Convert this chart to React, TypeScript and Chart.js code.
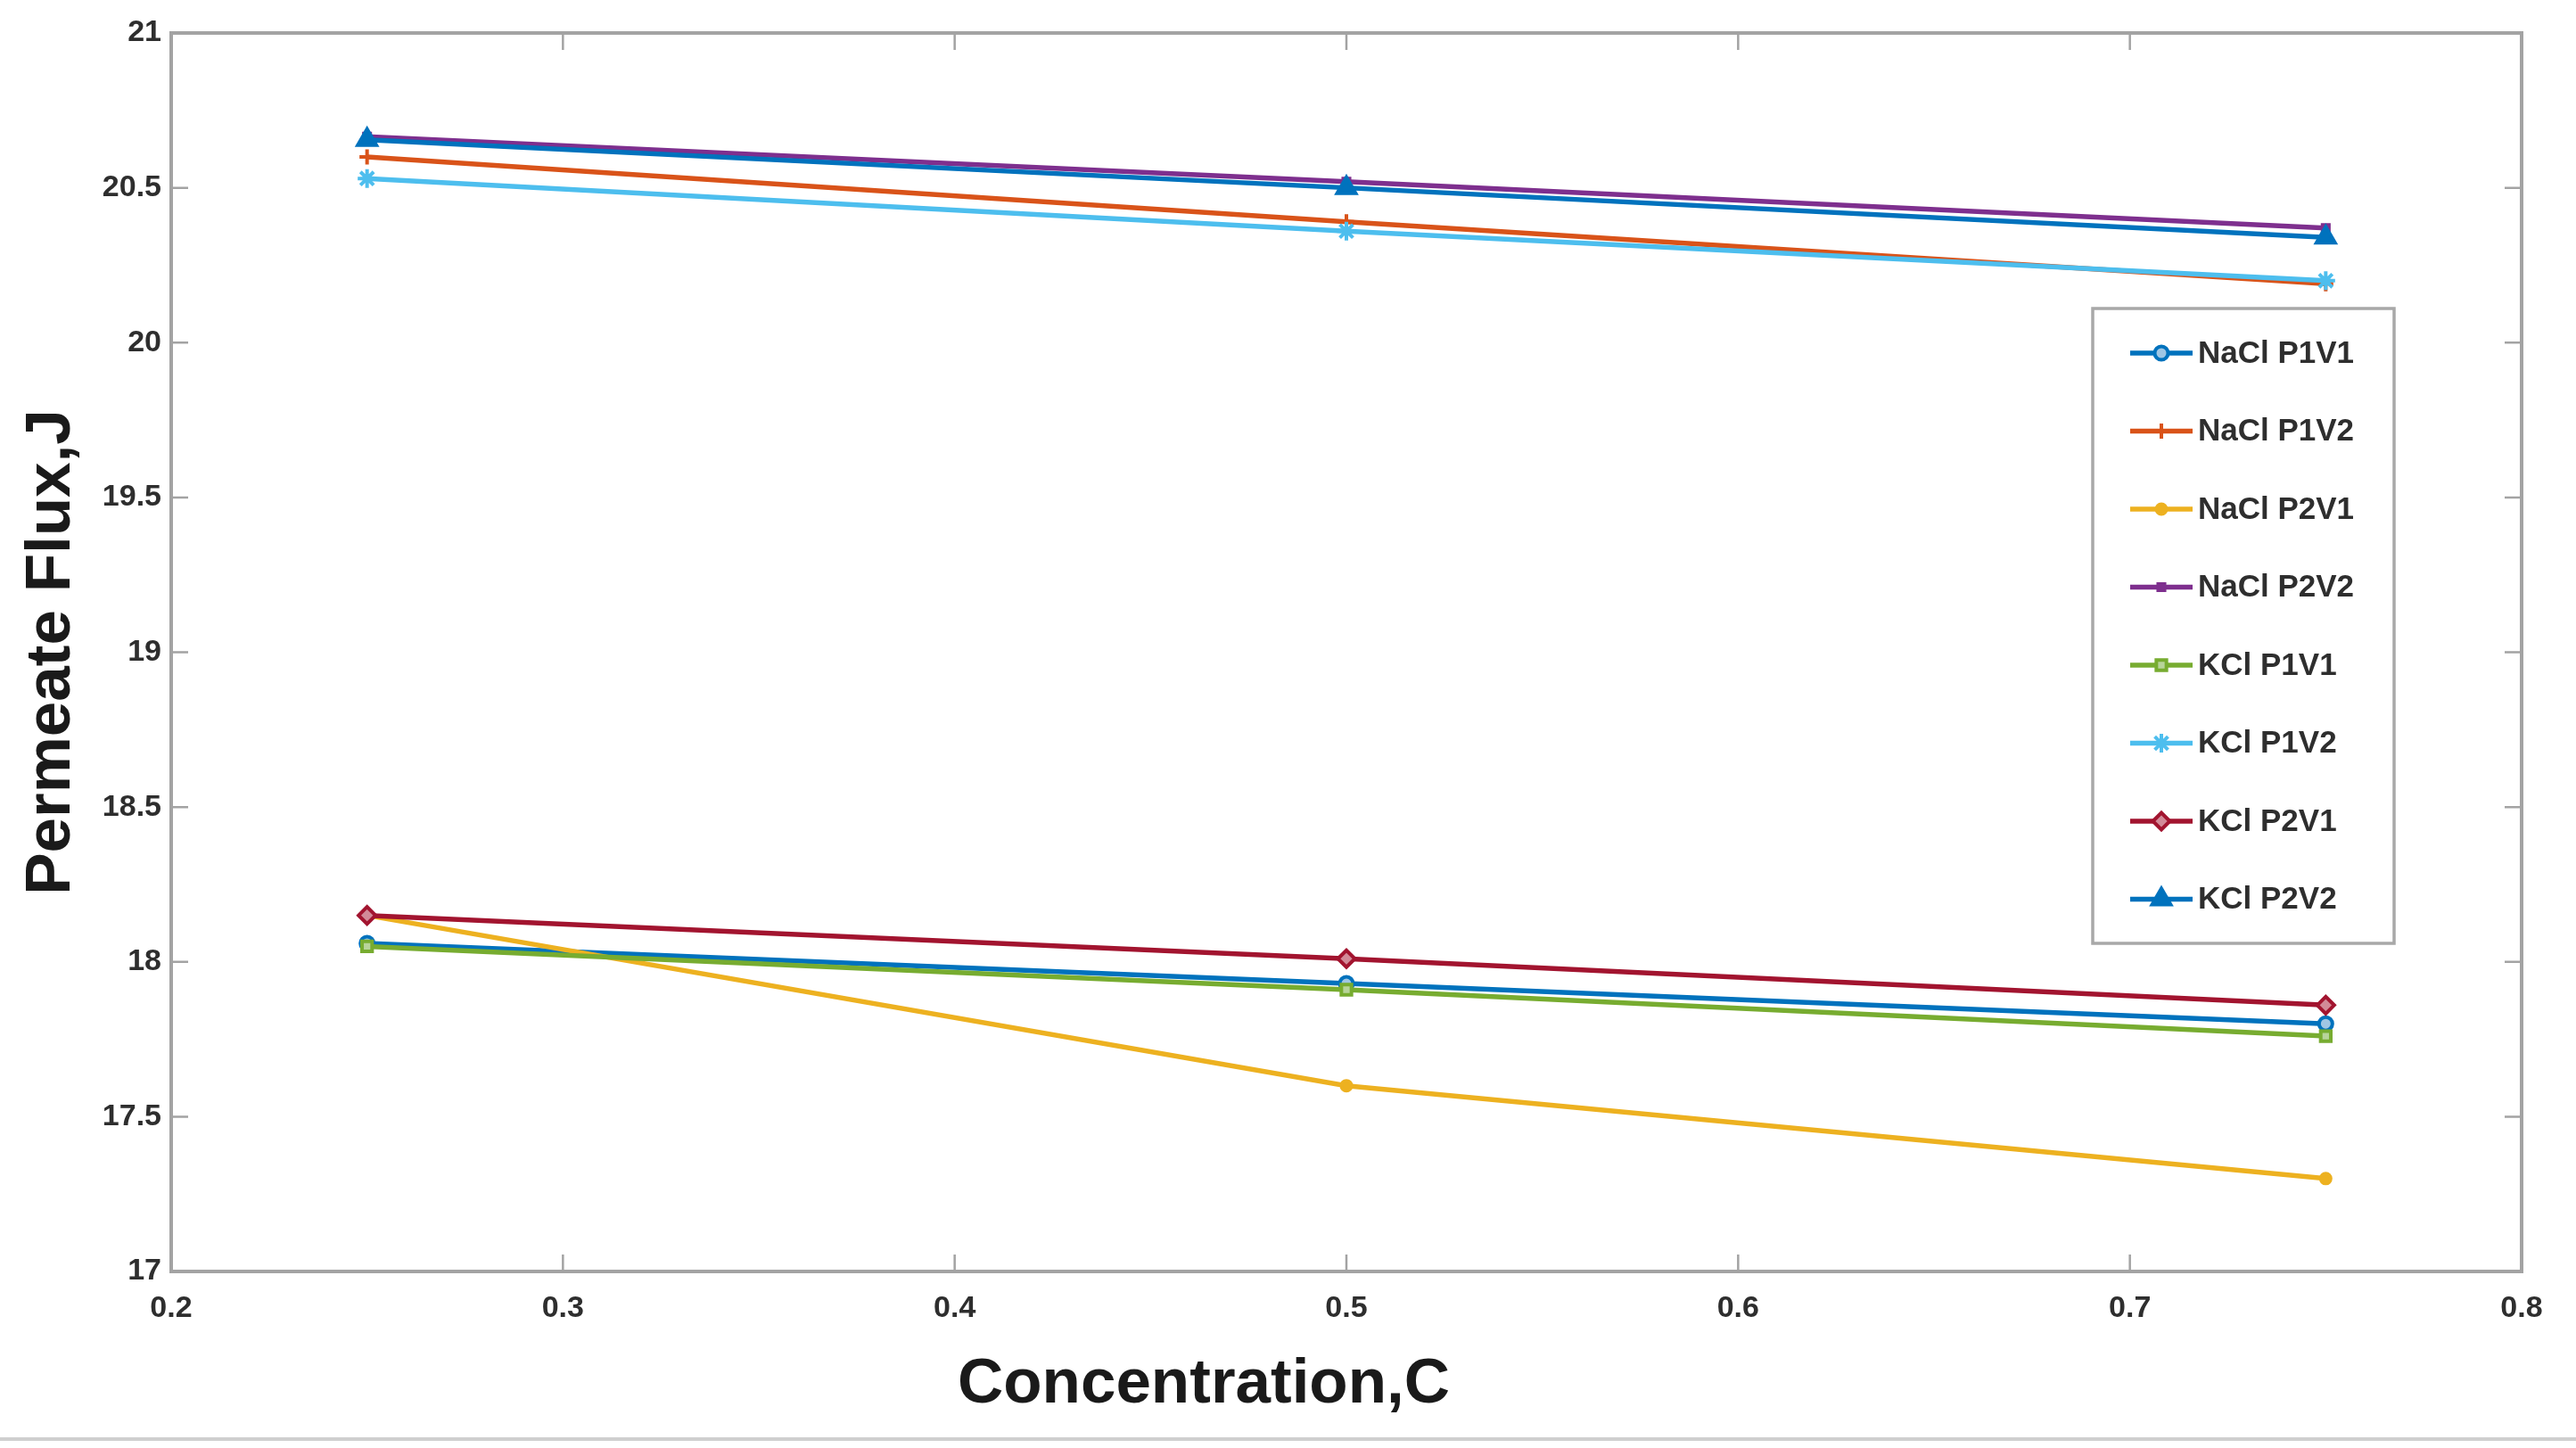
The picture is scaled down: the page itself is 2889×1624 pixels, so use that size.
import React, { useEffect, useRef } from 'react';
import { Chart, registerables } from 'chart.js';
import { drawPoint } from 'chart.js/helpers';

Chart.register(...registerables);

// ---- data ----
const concentrations = [0.25, 0.5, 0.75];
const naclP1V1 = [18.06, 17.93, 17.8];
const naclP1V2 = [20.6, 20.39, 20.19];
const naclP2V1 = [18.15, 17.6, 17.3];
const naclP2V2 = [20.665, 20.52, 20.37];
const kclP1V1 = [18.05, 17.91, 17.76];
const kclP1V2 = [20.53, 20.36, 20.2];
const kclP2V1 = [18.15, 18.01, 17.86];
const kclP2V2 = [20.655, 20.5, 20.34];
const seriesLabels = ['NaCl P1V1', 'NaCl P1V2', 'NaCl P2V1', 'NaCl P2V2', 'KCl P1V1', 'KCl P1V2', 'KCl P2V1', 'KCl P2V2'];
const seriesValues = [naclP1V1, naclP1V2, naclP2V1, naclP2V2, kclP1V1, kclP1V2, kclP2V1, kclP2V2];
const xTickValues = [0.2, 0.3, 0.4, 0.5, 0.6, 0.7, 0.8];
const xTickLabels = ['0.2', '0.3', '0.4', '0.5', '0.6', '0.7', '0.8'];
const yTickValues = [17, 17.5, 18, 18.5, 19, 19.5, 20, 20.5, 21];
const yTickLabels = ['17', '17.5', '18', '18.5', '19', '19.5', '20', '20.5', '21'];
const xTitle = 'Concentration,C';
const yTitle = 'Permeate Flux,J';

// ---- styles ----
const colors = ['#0072BD', '#D95319', '#EDB120', '#7E2F8E', '#77AC30', '#4DBEEE', '#A2142F', '#0072BD'];
const markers = ['circle', 'cross', 'circle', 'rect', 'rect', 'star', 'rectRot', 'triangle'];
const radii = [7.5, 8.5, 5.5, 5, 8, 10.5, 9.5, 12];
const fills = ['#9fc6e4', '#D95319', '#EDB120', '#7E2F8E', '#b8d49a', '#4DBEEE', '#d28a98', '#0072BD'];
const FONT = "'Liberation Sans', Arial, Helvetica, sans-serif";
const AXIS_COLOR = '#a3a3a3';
const TEXT_COLOR = '#2e2e2e';

const framePlugin = {
  id: 'matlabFrame',
  afterDatasetsDraw(chart: any) {
    const { ctx, chartArea: ca } = chart;
    const xs = chart.scales.x;
    const ys = chart.scales.y;
    const tl = 19;
    ctx.save();
    ctx.strokeStyle = AXIS_COLOR;
    ctx.lineWidth = 2.5;
    ctx.beginPath();
    xs.ticks.forEach((t: any) => {
      const px = xs.getPixelForValue(t.value);
      if (Math.abs(px - ca.left) < 2 || Math.abs(px - ca.right) < 2) return;
      ctx.moveTo(px, ca.bottom);
      ctx.lineTo(px, ca.bottom - tl);
      ctx.moveTo(px, ca.top);
      ctx.lineTo(px, ca.top + tl);
    });
    ys.ticks.forEach((t: any) => {
      const py = ys.getPixelForValue(t.value);
      if (Math.abs(py - ca.top) < 2 || Math.abs(py - ca.bottom) < 2) return;
      ctx.moveTo(ca.left, py);
      ctx.lineTo(ca.left + tl, py);
      ctx.moveTo(ca.right, py);
      ctx.lineTo(ca.right - tl, py);
    });
    ctx.stroke();
    ctx.lineWidth = 4;
    ctx.strokeRect(ca.left, ca.top, ca.right - ca.left, ca.bottom - ca.top);
    ctx.restore();
  },
};

const labelsPlugin = {
  id: 'matlabLabels',
  afterDraw(chart: any) {
    const { ctx, chartArea: ca } = chart;
    ctx.save();
    // x axis title
    ctx.fillStyle = '#1a1a1a';
    ctx.font = `bold 71px ${FONT}`;
    ctx.textAlign = 'center';
    ctx.textBaseline = 'middle';
    ctx.fillText(xTitle, ca.left + 0.4393 * (ca.right - ca.left), ca.bottom + 127);

    // legend
    const boxL = ca.right - 481;
    const boxT = ca.top + 309;
    const boxW = 338;
    const boxH = 712;
    ctx.fillStyle = '#ffffff';
    ctx.fillRect(boxL, boxT, boxW, boxH);
    ctx.strokeStyle = '#a8a8a8';
    ctx.lineWidth = 3.5;
    ctx.strokeRect(boxL, boxT, boxW, boxH);
    chart.data.datasets.forEach((ds: any, i: number) => {
      const y = boxT + 50 + i * 87.5;
      ctx.strokeStyle = ds.borderColor;
      ctx.lineWidth = ds.borderWidth;
      ctx.beginPath();
      ctx.moveTo(boxL + 42, y);
      ctx.lineTo(boxL + 112, y);
      ctx.stroke();
      ctx.fillStyle = ds.pointBackgroundColor;
      ctx.strokeStyle = ds.pointBorderColor;
      ctx.lineWidth = ds.pointBorderWidth;
      drawPoint(ctx, { pointStyle: ds.pointStyle, radius: ds.pointRadius, borderWidth: ds.pointBorderWidth, rotation: 0 }, boxL + 77, y);
      ctx.fillStyle = TEXT_COLOR;
      ctx.font = `bold 35px ${FONT}`;
      ctx.textAlign = 'left';
      ctx.textBaseline = 'middle';
      ctx.fillText(ds.label, boxL + 118, y + 1);
    });
    ctx.restore();
  },
};

export default function App() {
  const canvasRef = useRef<HTMLCanvasElement | null>(null);

  useEffect(() => {
    const canvas = canvasRef.current;
    if (!canvas) return;
    Chart.defaults.font.family = FONT;
    const datasets = seriesLabels.map((label, i) => ({
      label,
      data: concentrations.map((x, j) => ({ x, y: seriesValues[i][j] })),
      borderColor: colors[i],
      backgroundColor: fills[i],
      borderWidth: 5.5,
      pointStyle: markers[i],
      pointRadius: radii[i],
      pointBorderWidth: 4,
      pointBackgroundColor: fills[i],
      pointBorderColor: colors[i],
      tension: 0,
      fill: false,
      order: seriesLabels.length - i,
    }));
    const chart = new Chart(canvas, {
      type: 'line',
      data: { datasets },
      options: {
        animation: false,
        responsive: false,
        maintainAspectRatio: false,
        devicePixelRatio: 1,
        layout: { padding: { top: 37, right: 61, bottom: 0, left: 0 } },
        plugins: {
          legend: { display: false },
          tooltip: { enabled: false },
          title: { display: false },
        },
        scales: {
          x: {
            type: 'linear',
            min: 0.2,
            max: 0.8,
            grid: { display: false, drawTicks: false },
            border: { display: false },
            afterBuildTicks: (s: any) => {
              s.ticks = xTickValues.map((v) => ({ value: v }));
            },
            afterFit: (s: any) => {
              s.height = 198;
            },
            ticks: {
              autoSkip: false,
              maxRotation: 0,
              padding: 21,
              color: TEXT_COLOR,
              font: { size: 34, weight: 'bold' },
              callback: (v: any) => {
                const k = xTickValues.indexOf(Number(v));
                return k >= 0 ? xTickLabels[k] : '';
              },
            },
          },
          y: {
            type: 'linear',
            min: 17,
            max: 21,
            grid: { display: false, drawTicks: false },
            border: { display: false },
            afterBuildTicks: (s: any) => {
              s.ticks = yTickValues.map((v) => ({ value: v }));
            },
            afterFit: (s: any) => {
              s.width = 192;
            },
            title: {
              display: true,
              text: yTitle,
              color: '#1a1a1a',
              font: { size: 71, weight: 'bold' },
              padding: { top: 16, bottom: 0 },
            },
            ticks: {
              autoSkip: false,
              padding: 11,
              color: TEXT_COLOR,
              font: { size: 34, weight: 'bold' },
              callback: (v: any) => {
                const k = yTickValues.indexOf(Number(v));
                return k >= 0 ? yTickLabels[k] : '';
              },
            },
          },
        },
      },
      plugins: [framePlugin, labelsPlugin],
    } as any);
    return () => chart.destroy();
  }, []);

  return (
    <div style={{ position: 'absolute', left: 0, top: 0, width: 2889, height: 1624, background: '#ffffff', overflow: 'hidden' }}>
      <canvas ref={canvasRef} width={2889} height={1624} style={{ display: 'block' }} />
      <div style={{ position: 'absolute', left: 0, top: 1612, width: 2889, height: 4, background: '#cfcfcf' }} />
    </div>
  );
}
